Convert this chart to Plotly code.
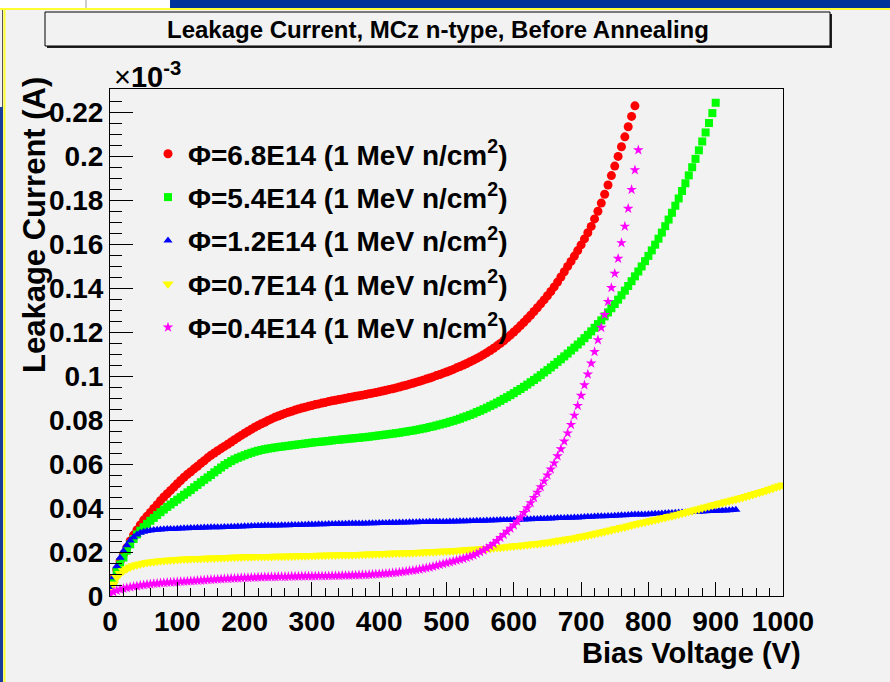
import plotly.graph_objects as go

# ---------------- data (bias voltage in V, current in units of 1e-3 A) ----------------
v_red = list(range(0, 785, 5))
i_red = [
    0.004, 0.008, 0.012, 0.0157, 0.019, 0.022, 0.025, 0.0277, 0.030, 0.0323,
    0.0345, 0.0363, 0.038, 0.0398, 0.0415, 0.0433, 0.045, 0.0465, 0.048, 0.0495,
    0.051, 0.0525, 0.054, 0.0553, 0.0565, 0.0578, 0.059, 0.0603, 0.0615, 0.0628,
    0.064, 0.065, 0.066, 0.067, 0.068, 0.069, 0.070, 0.071, 0.072, 0.073,
    0.074, 0.0749, 0.0758, 0.0767, 0.0775, 0.0783, 0.079, 0.0798, 0.0805, 0.0812,
    0.0818, 0.0824, 0.083, 0.0835, 0.084, 0.0845, 0.085, 0.0854, 0.0858, 0.0862,
    0.0866, 0.087, 0.0873, 0.0877, 0.088, 0.0884, 0.0887, 0.089, 0.0893, 0.0896,
    0.0899, 0.0902, 0.0905, 0.0908, 0.091, 0.0913, 0.0916, 0.0919, 0.0922, 0.0925,
    0.0928, 0.0932, 0.0935, 0.0939, 0.0942, 0.0946, 0.095, 0.0954, 0.0958, 0.0963,
    0.0967, 0.0972, 0.0976, 0.0981, 0.0986, 0.0991, 0.0996, 0.1002, 0.1007, 0.1013,
    0.1018, 0.1024, 0.103, 0.1037, 0.1043, 0.105, 0.1057, 0.1065, 0.1072, 0.108,
    0.1088, 0.1097, 0.1106, 0.1116, 0.1126, 0.1137, 0.1148, 0.1160, 0.1173, 0.1186,
    0.1200, 0.1214, 0.1229, 0.1244, 0.1260, 0.1276, 0.1293, 0.1310, 0.1328, 0.1346,
    0.1365, 0.1384, 0.1405, 0.1427, 0.1450, 0.1474, 0.1498, 0.1521, 0.1545, 0.1570,
    0.1596, 0.1623, 0.1651, 0.1680, 0.1714, 0.1749, 0.1786, 0.1826, 0.1868, 0.1911,
    0.1954, 0.1998, 0.2042, 0.2087, 0.2133, 0.2180, 0.2228,
]

v_green = list(range(0, 905, 5))
i_green = [
    0.003, 0.007, 0.011, 0.0143, 0.0175, 0.0206, 0.0235, 0.0259, 0.028, 0.0297,
    0.0313, 0.0328, 0.0342, 0.0355, 0.0368, 0.0381, 0.0393, 0.0405, 0.0416, 0.0427,
    0.0438, 0.0449, 0.046, 0.0471, 0.0482, 0.0494, 0.0505, 0.0517, 0.0528, 0.0539,
    0.055, 0.0562, 0.0573, 0.0584, 0.0595, 0.0604, 0.0613, 0.0621, 0.0628, 0.0634,
    0.064, 0.0646, 0.0651, 0.0656, 0.066, 0.0664, 0.0667, 0.067, 0.0672, 0.0675,
    0.0677, 0.0679, 0.0681, 0.0683, 0.0685, 0.0687, 0.0689, 0.0691, 0.0693, 0.0695,
    0.0697, 0.0699, 0.07, 0.0702, 0.0703, 0.0705, 0.0707, 0.0709, 0.071, 0.0712,
    0.0713, 0.0715, 0.0716, 0.0718, 0.0719, 0.0721, 0.0722, 0.0724, 0.0726, 0.0728,
    0.073, 0.0732, 0.0734, 0.0736, 0.0738, 0.074, 0.0742, 0.0745, 0.0747, 0.075,
    0.0752, 0.0755, 0.0758, 0.0761, 0.0764, 0.0768, 0.0771, 0.0775, 0.0779, 0.0783,
    0.0787, 0.0792, 0.0796, 0.0801, 0.0806, 0.0812, 0.0817, 0.0823, 0.0829, 0.0836,
    0.0842, 0.0849, 0.0856, 0.0864, 0.0871, 0.0879, 0.0887, 0.0896, 0.0904, 0.0913,
    0.0922, 0.0932, 0.0941, 0.0951, 0.0961, 0.0972, 0.0982, 0.0993, 0.1004, 0.1016,
    0.1027, 0.1039, 0.1051, 0.1064, 0.1076, 0.1089, 0.1102, 0.1116, 0.1129, 0.1143,
    0.1157, 0.1172, 0.1187, 0.1203, 0.1219, 0.1236, 0.1253, 0.1271, 0.1289, 0.1308,
    0.1327, 0.1347, 0.1367, 0.1388, 0.1409, 0.1431, 0.1453, 0.1475, 0.1498, 0.1522,
    0.1546, 0.1571, 0.1597, 0.1624, 0.1652, 0.1681, 0.1711, 0.1742, 0.1774, 0.1807,
    0.1841, 0.1876, 0.1912, 0.1949, 0.1987, 0.2026, 0.2066, 0.2107, 0.2150, 0.2195,
    0.2242,
]

v_blue = list(range(0, 935, 5))
i_blue = [
    0.003, 0.0085, 0.0135, 0.0174, 0.0205, 0.0231, 0.0252, 0.0267, 0.0279, 0.0287,
    0.0292, 0.0295, 0.0298, 0.03, 0.0301, 0.0302, 0.0303, 0.0304, 0.0305, 0.0305,
    0.0306, 0.0307, 0.0308, 0.0308, 0.0309, 0.0309, 0.031, 0.031, 0.0311, 0.0311,
    0.0312, 0.0312, 0.0313, 0.0313, 0.0314, 0.0314, 0.0315, 0.0315, 0.0316, 0.0316,
    0.0317, 0.0317, 0.0318, 0.0318, 0.0319, 0.0319, 0.032, 0.032, 0.032, 0.0321,
    0.0321, 0.0322, 0.0322, 0.0322, 0.0323, 0.0323, 0.0323, 0.0324, 0.0324, 0.0325,
    0.0325, 0.0325, 0.0326, 0.0326, 0.0326, 0.0327, 0.0327, 0.0327, 0.0328, 0.0328,
    0.0328, 0.0329, 0.0329, 0.0329, 0.033, 0.033, 0.033, 0.0331, 0.0331, 0.0331,
    0.0332, 0.0332, 0.0332, 0.0333, 0.0333, 0.0333, 0.0334, 0.0334, 0.0334, 0.0335,
    0.0335, 0.0335, 0.0336, 0.0336, 0.0336, 0.0337, 0.0337, 0.0337, 0.0338, 0.0338,
    0.0338, 0.0339, 0.0339, 0.0339, 0.034, 0.034, 0.034, 0.0341, 0.0341, 0.0342,
    0.0342, 0.0342, 0.0343, 0.0343, 0.0344, 0.0344, 0.0345, 0.0345, 0.0346, 0.0346,
    0.0347, 0.0347, 0.0348, 0.0348, 0.0349, 0.0349, 0.035, 0.035, 0.0351, 0.0351,
    0.0352, 0.0352, 0.0353, 0.0354, 0.0355, 0.0355, 0.0356, 0.0356, 0.0357, 0.0357,
    0.0358, 0.0359, 0.036, 0.036, 0.0361, 0.0362, 0.0363, 0.0363, 0.0364, 0.0364,
    0.0365, 0.0366, 0.0367, 0.0367, 0.0368, 0.0369, 0.037, 0.037, 0.0371, 0.0371,
    0.0372, 0.0373, 0.0374, 0.0374, 0.0375, 0.0376, 0.0377, 0.0377, 0.0378, 0.0379,
    0.038, 0.038, 0.0381, 0.0382, 0.0383, 0.0383, 0.0384, 0.0385, 0.0386, 0.0386,
    0.0387, 0.0388, 0.0389, 0.0389, 0.039, 0.0391, 0.0392,
]

v_yellow = list(range(0, 1005, 5))
i_yellow = [
    0.002, 0.0055, 0.0085, 0.0102, 0.0115, 0.0124, 0.0132, 0.0137, 0.0142, 0.0146,
    0.0149, 0.0152, 0.0154, 0.0156, 0.0158, 0.016, 0.0161, 0.0163, 0.0164, 0.0165,
    0.0166, 0.0167, 0.0168, 0.0168, 0.0169, 0.017, 0.0171, 0.0171, 0.0172, 0.0172,
    0.0173, 0.0173, 0.0174, 0.0174, 0.0175, 0.0175, 0.0176, 0.0176, 0.0177, 0.0177,
    0.0178, 0.0178, 0.0178, 0.0179, 0.0179, 0.0179, 0.018, 0.018, 0.018, 0.0181,
    0.0181, 0.0181, 0.0181, 0.0182, 0.0182, 0.0182, 0.0183, 0.0183, 0.0183, 0.0184,
    0.0184, 0.0184, 0.0185, 0.0185, 0.0185, 0.0186, 0.0186, 0.0186, 0.0187, 0.0187,
    0.0187, 0.0188, 0.0188, 0.0189, 0.0189, 0.019, 0.019, 0.0191, 0.0191, 0.0192,
    0.0192, 0.0193, 0.0193, 0.0194, 0.0194, 0.0195, 0.0195, 0.0196, 0.0196, 0.0197,
    0.0197, 0.0198, 0.0199, 0.0199, 0.02, 0.0201, 0.0201, 0.0202, 0.0203, 0.0203,
    0.0204, 0.0205, 0.0206, 0.0207, 0.0208, 0.0209, 0.021, 0.0211, 0.0212, 0.0213,
    0.0214, 0.0215, 0.0216, 0.0217, 0.0219, 0.022, 0.0221, 0.0223, 0.0224, 0.0226,
    0.0227, 0.0229, 0.023, 0.0232, 0.0233, 0.0235, 0.0237, 0.0238, 0.024, 0.0242,
    0.0244, 0.0246, 0.0249, 0.0251, 0.0254, 0.0256, 0.0259, 0.0261, 0.0264, 0.0267,
    0.027, 0.0273, 0.0276, 0.0279, 0.0283, 0.0286, 0.029, 0.0293, 0.0297, 0.03,
    0.0304, 0.0307, 0.0311, 0.0314, 0.0318, 0.0322, 0.0326, 0.0329, 0.0333, 0.0336,
    0.034, 0.0343, 0.0347, 0.035, 0.0354, 0.0357, 0.0361, 0.0364, 0.0368, 0.0372,
    0.0376, 0.038, 0.0384, 0.0388, 0.0392, 0.0396, 0.04, 0.0404, 0.0408, 0.0412,
    0.0416, 0.042, 0.0424, 0.0428, 0.0432, 0.0436, 0.044, 0.0444, 0.0448, 0.0452,
    0.0457, 0.0461, 0.0466, 0.047, 0.0475, 0.048, 0.0485, 0.049, 0.0495, 0.05,
    0.0505,
]

v_magenta = list(range(0, 790, 5))
i_magenta = [
    0.001, 0.0018, 0.0025, 0.003, 0.0034, 0.0037, 0.004, 0.0043, 0.0045, 0.0048,
    0.005, 0.0052, 0.0054, 0.0056, 0.0057, 0.0059, 0.006, 0.0061, 0.0062, 0.0063,
    0.0064, 0.0065, 0.0066, 0.0067, 0.0068, 0.0069, 0.007, 0.0071, 0.0072, 0.0073,
    0.0074, 0.0075, 0.0076, 0.0077, 0.0078, 0.0079, 0.008, 0.008, 0.0081, 0.0082,
    0.0083, 0.0083, 0.0084, 0.0084, 0.0085, 0.0085, 0.0086, 0.0086, 0.0087, 0.0087,
    0.0088, 0.0088, 0.0088, 0.0088, 0.0089, 0.0089, 0.0089, 0.009, 0.009, 0.009,
    0.009, 0.009, 0.0091, 0.0091, 0.0091, 0.0091, 0.0092, 0.0092, 0.0092, 0.0093,
    0.0093, 0.0093, 0.0094, 0.0094, 0.0095, 0.0096, 0.0096, 0.0097, 0.0098, 0.0099,
    0.01, 0.0101, 0.0102, 0.0103, 0.0105, 0.0106, 0.0108, 0.011, 0.0112, 0.0114,
    0.0116, 0.0118, 0.0121, 0.0124, 0.0127, 0.013, 0.0134, 0.0138, 0.0142, 0.0146,
    0.015, 0.0154, 0.0158, 0.0162, 0.0166, 0.017, 0.0175, 0.018, 0.0185, 0.0192,
    0.0200, 0.0208, 0.0217, 0.0227, 0.0238, 0.0251, 0.0265, 0.0279, 0.0293, 0.0307,
    0.0322, 0.0339, 0.0358, 0.0378, 0.0400, 0.0423, 0.0447, 0.0471, 0.0496, 0.0522,
    0.0549, 0.0576, 0.0604, 0.0636, 0.0668, 0.0703, 0.0740, 0.0779, 0.0821, 0.0865,
    0.0911, 0.0959, 0.1008, 0.1058, 0.1110, 0.1164, 0.1220, 0.1278, 0.1338, 0.1401,
    0.1466, 0.1534, 0.1605, 0.1680, 0.1761, 0.1847, 0.1936, 0.2027,
]

series_names = [
    "Φ=6.8E14 (1 MeV n/cm<sup>2</sup>)",
    "Φ=5.4E14 (1 MeV n/cm<sup>2</sup>)",
    "Φ=1.2E14 (1 MeV n/cm<sup>2</sup>)",
    "Φ=0.7E14 (1 MeV n/cm<sup>2</sup>)",
    "Φ=0.4E14 (1 MeV n/cm<sup>2</sup>)",
]
y_ticks = [0, 0.02, 0.04, 0.06, 0.08, 0.1, 0.12, 0.14, 0.16, 0.18, 0.2, 0.22]
y_tick_text = ["0", "0.02", "0.04", "0.06", "0.08", "0.1", "0.12", "0.14",
               "0.16", "0.18", "0.2", "0.22"]
x_ticks = [0, 100, 200, 300, 400, 500, 600, 700, 800, 900, 1000]

# ---------------- styling ----------------
W, H = 890, 682
L, R, T, B = 110, 783, 89, 596          # frame in pixels
BG = "#f2f2f2"
FONT = "Liberation Sans, Arial, Helvetica, sans-serif"


def fx(px):
    return (px - L) / (R - L)


def fy(py):
    return (B - py) / (B - T)


styles = [
    dict(color="#ff0000", symbol="circle", size=9),
    dict(color="#00ff00", symbol="square", size=8),
    dict(color="#0000ff", symbol="triangle-up", size=8),
    dict(color="#ffff00", symbol="triangle-down", size=10),
    dict(color="#ff00ff", symbol="star", size=8),
]
data = [(v_red, i_red), (v_green, i_green), (v_blue, i_blue),
        (v_yellow, i_yellow), (v_magenta, i_magenta)]

fig = go.Figure()
for k, ((vx, iy), st, name) in enumerate(zip(data, styles, series_names)):
    fig.add_trace(go.Scatter(
        x=vx, y=iy, mode="markers", name=name, legendgroup=f"g{k}",
        marker=dict(color=st["color"], symbol=st["symbol"], size=st["size"],
                    line=dict(width=0)),
    ))

axis_common = dict(
    showgrid=False, zeroline=False, showline=True, linecolor="black",
    linewidth=1, mirror=True, ticks="inside", tickcolor="black", tickwidth=1,
    tickfont=dict(family=FONT, size=28, color="black", weight="bold"),
)
fig.update_xaxes(
    range=[0, 1000], tickvals=x_ticks, ticklen=14,
    minor=dict(dtick=20, ticklen=8, tickcolor="black", ticks="inside"),
    **axis_common,
)
fig.update_yaxes(
    range=[0, (B - T) / 2200.0], tickvals=y_ticks, ticktext=y_tick_text,
    ticklen=23,
    minor=dict(dtick=0.005, ticklen=12, tickcolor="black", ticks="inside"),
    **axis_common,
)

shapes = [
    # window strips around the canvas
    dict(type="rect", x0=fx(0), x1=fx(170), y0=fy(9), y1=fy(0),
         fillcolor="white", line=dict(width=0)),
    dict(type="rect", x0=fx(170), x1=fx(890), y0=fy(8), y1=fy(0),
         fillcolor="#003399", line=dict(width=0)),
    dict(type="line", x0=fx(86), x1=fx(86), y0=fy(9), y1=fy(0),
         line=dict(color="#999999", width=1)),
    dict(type="line", x0=fx(0), x1=fx(890), y0=fy(9), y1=fy(9),
         line=dict(color="#ffff33", width=2)),
    dict(type="line", x0=fx(4.5), x1=fx(4.5), y0=fy(9), y1=fy(682),
         line=dict(color="#ffff33", width=2)),
    dict(type="rect", x0=fx(0), x1=fx(3), y0=fy(682), y1=fy(107),
         fillcolor="#1a3d9a", line=dict(width=0)),
    dict(type="line", x0=fx(2.5), x1=fx(2.5), y0=fy(107), y1=fy(10),
         line=dict(color="#555555", width=1)),
    # title box with shadow
    dict(type="rect", x0=fx(47), x1=fx(832), y0=fy(48), y1=fy(14),
         fillcolor="#222222", line=dict(width=0)),
    dict(type="rect", x0=fx(45), x1=fx(830), y0=fy(46), y1=fy(12),
         fillcolor=BG, line=dict(color="black", width=1)),
]
for s in shapes:
    s.update(xref="paper", yref="paper", layer="above")

annotations = [
    dict(text="<b>Leakage Current, MCz n-type, Before Annealing</b>",
         x=fx(437.5), y=fy(29.5), xanchor="center", yanchor="middle",
         font=dict(family=FONT, size=24, color="black")),
    dict(text="<b>Leakage Current (A)</b>", textangle=-90,
         x=fx(34), y=fy(225), xanchor="center", yanchor="middle",
         font=dict(family=FONT, size=31, color="black")),
    dict(text="<b>Bias Voltage (V)</b>",
         x=fx(803), y=fy(653), xanchor="right", yanchor="middle",
         font=dict(family=FONT, size=29, color="black")),
    dict(text="×<b>10<sup>-3</sup></b>",
         x=fx(112), y=fy(75), xanchor="left", yanchor="middle",
         font=dict(family=FONT, size=29, color="black")),
]
for a in annotations:
    a.update(xref="paper", yref="paper", showarrow=False)

fig.update_layout(
    width=W, height=H,
    margin=dict(l=L, r=W - R, t=T, b=H - B, pad=0),
    paper_bgcolor=BG, plot_bgcolor=BG,
    showlegend=True,
    legend=dict(
        x=fx(148), y=fy(129), xanchor="left", yanchor="top",
        bgcolor="rgba(0,0,0,0)", borderwidth=0,
        font=dict(family=FONT, size=28, color="black", weight="bold"),
        tracegroupgap=4, itemsizing="trace",
    ),
    shapes=shapes, annotations=annotations,
)

fig.write_html("out.html")
